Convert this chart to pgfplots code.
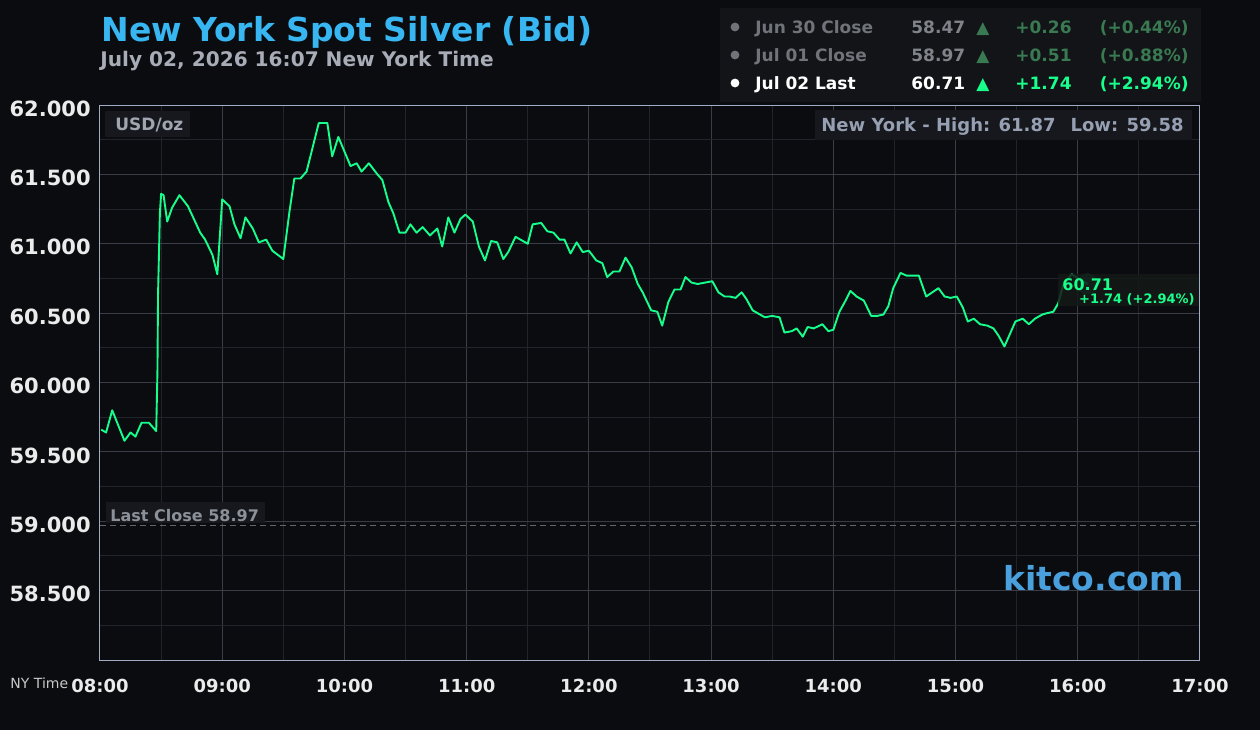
\documentclass[border=0pt]{standalone}
\usepackage{pgfplots}
\pgfplotsset{compat=1.18}
\usepackage{fontspec}
\setmainfont{DejaVu Sans}
\definecolor{bg}{RGB}{11,12,16}
\definecolor{panel}{RGB}{18,20,24}
\definecolor{boxbg}{RGB}{22,24,29}
\definecolor{gridmaj}{RGB}{58,60,70}
\definecolor{gridmin}{RGB}{34,36,43}
\definecolor{border}{RGB}{160,172,196}
\definecolor{tickc}{RGB}{235,235,235}
\definecolor{titlec}{RGB}{56,182,242}
\definecolor{subc}{RGB}{168,172,182}
\definecolor{dimgray}{RGB}{112,115,122}
\definecolor{dimval}{RGB}{128,131,138}
\definecolor{dimgreen}{RGB}{58,122,82}
\definecolor{brightgreen}{RGB}{24,255,140}
\definecolor{linegreen}{RGB}{22,255,140}
\definecolor{hlc}{RGB}{150,160,178}
\definecolor{usdc}{RGB}{160,165,175}
\definecolor{lastc}{RGB}{140,144,152}
\definecolor{dashc}{RGB}{100,102,110}
\definecolor{kitco}{RGB}{74,160,221}
\definecolor{endbox}{RGB}{20,26,24}
\begin{document}
\begin{tikzpicture}[x=1pt,y=1pt]
\fill[bg] (0,0) rectangle (630,365);
\begin{axis}[
  at={(50pt,35pt)}, anchor=south west,
  scale only axis, width=550pt, height=277.5pt,
  xmin=8, xmax=17, ymin=58, ymax=62,
  axis background/.style={fill=bg},
  axis line style={draw=border, line width=0.5pt},
  xtick={8,9,10,11,12,13,14,15,16,17},
  xticklabels={08:00,09:00,10:00,11:00,12:00,13:00,14:00,15:00,16:00,17:00},
  minor xtick={8.5,9.5,10.5,11.5,12.5,13.5,14.5,15.5,16.5},
  ytick={58.5,59,59.5,60,60.5,61,61.5,62},
  yticklabels={58.500,59.000,59.500,60.000,60.500,61.000,61.500,62.000},
  minor ytick={58.25,58.75,59.25,59.75,60.25,60.75,61.25,61.75},
  grid=both,
  major grid style={draw=gridmaj, line width=0.5pt},
  minor grid style={draw=gridmin, line width=0.5pt},
  major tick length=0pt, minor tick length=0pt,
  xticklabel style={font=\fontsize{9}{10}\selectfont\bfseries, text=tickc, anchor=base, inner sep=0pt, yshift=-16pt},
  yticklabel style={font=\fontsize{10.5}{12}\selectfont\bfseries, text=tickc, anchor=east, inner sep=0pt, xshift=-4.5pt, yshift=-1.75pt},
  clip=false,
]
\addplot[dashc, dash pattern=on 3pt off 2pt, line width=0.5pt] coordinates {(8,58.97) (17,58.97)};
\addplot[linegreen, line width=0.95pt, line join=round] coordinates {
(8.01,59.66) (8.05,59.64) (8.10,59.80) (8.15,59.69) (8.20,59.58) (8.25,59.64)
(8.29,59.61) (8.34,59.71) (8.40,59.71) (8.46,59.65) (8.47,60.08) (8.475,60.64)
(8.49,61.22) (8.50,61.36) (8.52,61.35) (8.55,61.16) (8.59,61.26) (8.65,61.35)
(8.72,61.27) (8.82,61.08) (8.86,61.03) (8.92,60.92) (8.96,60.78) (9.00,61.32)
(9.06,61.27) (9.10,61.14) (9.15,61.04) (9.19,61.19) (9.25,61.11) (9.30,61.01)
(9.36,61.03) (9.41,60.95) (9.50,60.89) (9.55,61.23) (9.59,61.47) (9.64,61.47)
(9.69,61.52) (9.79,61.87) (9.86,61.87) (9.90,61.63) (9.95,61.77) (10.05,61.56)
(10.10,61.58) (10.14,61.52) (10.20,61.58) (10.27,61.50) (10.31,61.46) (10.36,61.30)
(10.40,61.22) (10.45,61.08) (10.50,61.08) (10.54,61.14) (10.59,61.08) (10.64,61.12)
(10.70,61.06) (10.76,61.11) (10.80,60.98) (10.85,61.19) (10.90,61.08) (10.95,61.18)
(10.99,61.21) (11.05,61.16) (11.10,60.98) (11.15,60.88) (11.20,61.02) (11.25,61.01)
(11.30,60.89) (11.34,60.94) (11.40,61.05) (11.50,61.00) (11.54,61.14) (11.61,61.15)
(11.66,61.09) (11.71,61.08) (11.76,61.03) (11.80,61.03) (11.85,60.93) (11.90,61.01)
(11.95,60.94) (12.00,60.95) (12.06,60.88) (12.11,60.86) (12.15,60.76) (12.20,60.80)
(12.25,60.80) (12.30,60.90) (12.35,60.83) (12.40,60.71) (12.44,60.65) (12.51,60.52)
(12.56,60.51) (12.60,60.41) (12.65,60.58) (12.70,60.67) (12.75,60.67) (12.79,60.76)
(12.84,60.72) (12.89,60.71) (12.95,60.72) (13.01,60.73) (13.06,60.65) (13.11,60.62)
(13.15,60.62) (13.20,60.61) (13.25,60.65) (13.29,60.60) (13.34,60.52) (13.38,60.50)
(13.44,60.47) (13.50,60.48) (13.56,60.47) (13.60,60.36) (13.66,60.37) (13.70,60.39)
(13.75,60.33) (13.79,60.40) (13.84,60.39) (13.91,60.42) (13.96,60.37) (14.00,60.38)
(14.05,60.51) (14.10,60.59) (14.14,60.66) (14.19,60.62) (14.25,60.59) (14.31,60.48)
(14.36,60.48) (14.41,60.49) (14.45,60.55) (14.49,60.68) (14.55,60.79) (14.60,60.77)
(14.70,60.77) (14.76,60.62) (14.81,60.65) (14.86,60.68) (14.91,60.62) (14.96,60.61)
(15.01,60.62) (15.06,60.54) (15.10,60.44) (15.15,60.46) (15.20,60.42) (15.26,60.41)
(15.31,60.39) (15.35,60.34) (15.40,60.26) (15.45,60.36) (15.49,60.44) (15.55,60.46)
(15.60,60.42) (15.65,60.46) (15.71,60.49) (15.75,60.50) (15.80,60.51) (15.84,60.57)
(15.88,60.70) (15.95,60.78) (16.08,60.71)
};
\addplot[only marks, mark=*, mark size=5pt, color=linegreen, opacity=0.25] coordinates {(16.08,60.71)};
\end{axis}
% boxes over the plot area
\fill[boxbg] (52.5,296.5) rectangle (95,309.5);
\node[anchor=base west, inner sep=0pt, text=usdc, font=\fontsize{8.5}{10}\selectfont\bfseries] at (57.5,299.5) {USD/oz};
\fill[boxbg] (407.5,295) rectangle (596,310);
\node[anchor=base west, inner sep=0pt, text=hlc, font=\fontsize{9}{10}\selectfont\bfseries] at (410.5,299) {New York - High: 61.87};
\node[anchor=base east, inner sep=0pt, text=hlc, font=\fontsize{9}{10}\selectfont\bfseries] at (592,299) {Low: 59.58};
\fill[boxbg] (53,103.5) rectangle (132.5,114);
\node[anchor=base west, inner sep=0pt, text=lastc, font=\fontsize{8}{9}\selectfont\bfseries] at (55,104.5) {Last Close 58.97};
\node[anchor=base east, inner sep=0pt, text=kitco, font=\fontsize{16.5}{18}\selectfont\bfseries] at (592,70) {kitco.com};
\fill[endbox, fill opacity=0.85] (529,212) rectangle (599.7,228);
\node[anchor=base west, inner sep=0pt, text=brightgreen, font=\fontsize{8}{9}\selectfont\bfseries] at (531,219.5) {60.71};
\node[anchor=base east, inner sep=0pt, text=brightgreen, font=\fontsize{6.5}{7}\selectfont\bfseries] at (597.5,213.5) {+1.74 (+2.94\%)};
% NY time
\node[anchor=base west, inner sep=0pt, text=tickc!85!black, font=\fontsize{7}{8}\selectfont] at (5,21) {NY Time};
% title
\node[anchor=base west, inner sep=0pt, text=titlec, font=\fontsize{16.5}{18}\selectfont\bfseries] at (50.5,344) {New York Spot Silver (Bid)};
\node[anchor=base west, inner sep=0pt, text=subc, font=\fontsize{10.05}{12}\selectfont\bfseries] at (50,331.5) {July 02, 2026 16:07 New York Time};
% panel
\fill[panel] (360,314) rectangle (600.5,361);
\fill[dimgray] (367.5,351.5) circle (2.2);
\fill[dimgray] (367.5,337.5) circle (2.2);
\fill[white] (367.5,323.5) circle (2.2);
\begin{scope}[every node/.style={inner sep=0pt}, font=\fontsize{8.5}{10}\selectfont\bfseries]
\node[anchor=base west, text=dimgray] at (377.5,348) {Jun 30 Close};
\node[anchor=base west, text=dimval] at (455.5,348) {58.47};
\node[anchor=base, text=dimgreen] at (491.5,348) {▲};
\node[anchor=base west, text=dimgreen] at (507.5,348) {+0.26};
\node[anchor=base east, text=dimgreen] at (594.5,348) {(+0.44\%)};
\node[anchor=base west, text=dimgray] at (377.5,334) {Jul 01 Close};
\node[anchor=base west, text=dimval] at (455.5,334) {58.97};
\node[anchor=base, text=dimgreen] at (491.5,334) {▲};
\node[anchor=base west, text=dimgreen] at (507.5,334) {+0.51};
\node[anchor=base east, text=dimgreen] at (594.5,334) {(+0.88\%)};
\node[anchor=base west, text=white] at (377.5,320) {Jul 02 Last};
\node[anchor=base west, text=white] at (455.5,320) {60.71};
\node[anchor=base, text=brightgreen] at (491.5,320) {▲};
\node[anchor=base west, text=brightgreen] at (507.5,320) {+1.74};
\node[anchor=base east, text=brightgreen] at (594.5,320) {(+2.94\%)};
\end{scope}
\pgfresetboundingbox
\path[use as bounding box] (0,0) rectangle (630,365);
\end{tikzpicture}
\end{document}
